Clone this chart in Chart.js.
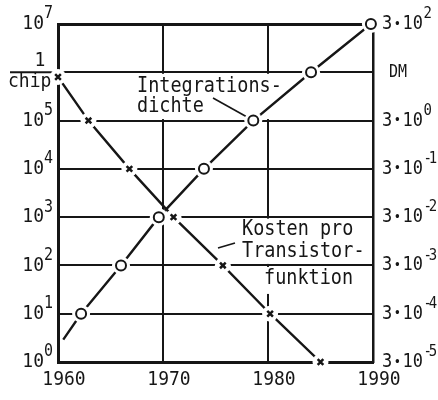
<!DOCTYPE html>
<html>
<head>
<meta charset="utf-8">
<script src="https://cdn.jsdelivr.net/npm/chart.js@4"></script>
<style>
  html, body { margin: 0; padding: 0; background: #fff; }
</style>
</head>
<body>
<canvas id="chart" width="438" height="400"></canvas>
<script>
// x axis: years
const yearTicks = [1960, 1970, 1980, 1990];

// Integrationsdichte (components per chip), circles
const densityYears = [1960.5, 1962.2, 1966.0, 1969.6, 1973.9, 1978.6, 1984.1, 1989.8];
const densityValues = [2.9, 1e1, 1e2, 1e3, 1e4, 1e5, 1e6, 1e7];

// Kosten pro Transistorfunktion (DM), crosses
const costYears = [1960, 1962.9, 1966.8, 1971.0, 1975.7, 1980.2, 1985.0];
const costValues = [24, 3, 0.3, 0.03, 0.003, 0.0003, 0.00003];

// axis ticks
const leftTicks = [1, 1e1, 1e2, 1e3, 1e4, 1e5, 1e6, 1e7];
const leftExps = ["0", "1", "2", "3", "4", "5", null, "7"];
const rightTicks = [3e-5, 3e-4, 3e-3, 3e-2, 3e-1, 3, 30, 300];
const rightExps = ["-5", "-4", "-3", "-2", "-1", "0", null, "2"];

const INK = "#161616";
const MONO = "'DejaVu Sans Mono', monospace";
const STRETCH = 1.12;

const densityPts = densityYears.map((x, i) => ({ x: x, y: densityValues[i] }));
const costPts = costYears.map((x, i) => ({ x: x, y: costValues[i] }));

// text drawn a little taller than the font, like the narrow typewriter face
function put(ctx, s, x, y, size, align, baseline) {
    ctx.save();
    ctx.font = size + "px " + MONO;
    ctx.textAlign = align || "left";
    ctx.textBaseline = baseline || "middle";
    ctx.translate(x, y);
    ctx.scale(1, STRETCH);
    ctx.fillText(s, 0, 0);
    ctx.restore();
}

function width(ctx, s, size, spacing) {
    ctx.save();
    ctx.font = size + "px " + MONO;
    ctx.letterSpacing = spacing || "0px";
    const w = ctx.measureText(s).width;
    ctx.restore();
    return w;
}

function putSup(ctx, s, x, y, size) {
    ctx.save();
    ctx.letterSpacing = s.length > 1 ? "-3px" : "0px";
    put(ctx, s, x, y, size);
    ctx.restore();
}

const labelsPlugin = {
    id: "labels",
    beforeDatasetsDraw(chart) {
        const ctx = chart.ctx;
        const xs = chart.scales.x, ys = chart.scales.y;
        const area = chart.chartArea;
        ctx.save();
        ctx.strokeStyle = INK;
        ctx.fillStyle = INK;

        // fraction bar of "1/chip"
        const y6 = ys.getPixelForValue(1e6);
        ctx.lineWidth = 2;
        ctx.beginPath();
        ctx.moveTo(10, y6);
        ctx.lineTo(area.left, y6);
        ctx.stroke();

        // Integrationsdichte label
        const y5 = ys.getPixelForValue(1e5);
        ctx.fillStyle = "#fff";
        ctx.fillRect(135, y6 + 1.5, 166, y5 - y6 - 3);
        ctx.fillStyle = INK;
        put(ctx, "Integrations-", 137, 92, 18.5, "left", "alphabetic");
        put(ctx, "dichte", 137, 112, 18.5, "left", "alphabetic");
        ctx.lineWidth = 1.6;
        ctx.beginPath();
        ctx.moveTo(213, 98);
        ctx.lineTo(xs.getPixelForValue(densityYears[5]), ys.getPixelForValue(densityValues[5]));
        ctx.stroke();

        // Kosten pro Transistorfunktion label
        const y3 = ys.getPixelForValue(1e3), y2 = ys.getPixelForValue(1e2);
        ctx.fillStyle = "#fff";
        ctx.fillRect(238, y3 + 1.5, area.right - 239.5, y2 - y3 - 3);
        ctx.fillRect(260, y2 + 1.5, 102, 27);
        ctx.fillStyle = INK;
        put(ctx, "Kosten pro", 242, 235, 18.5, "left", "alphabetic");
        put(ctx, "Transistor-", 242, 257, 18.5, "left", "alphabetic");
        put(ctx, "funktion", 264, 284, 18.5, "left", "alphabetic");
        ctx.beginPath();
        ctx.moveTo(235, 243);
        ctx.lineTo(218, 248);
        ctx.stroke();
        ctx.restore();
    },
    afterDraw(chart) {
        const ctx = chart.ctx;
        const xs = chart.scales.x, ys = chart.scales.y, yr = chart.scales.y2;
        const area = chart.chartArea;
        ctx.save();
        ctx.fillStyle = INK;

        // x tick labels
        yearTicks.forEach(function (t) {
            put(ctx, String(t), xs.getPixelForValue(t) + 6, area.bottom + 18, 18, "center");
        });

        // left tick labels: 10^n, and 1/chip in place of 10^6
        leftTicks.forEach(function (v, i) {
            const y = ys.getPixelForValue(v);
            if (leftExps[i] === null) {
                put(ctx, "1", 40, y - 6, 18, "center", "alphabetic");
                put(ctx, "chip", 8, y + 15, 18, "left", "alphabetic");
                return;
            }
            const ew = width(ctx, leftExps[i], 15);
            const xr = area.left - 5 - ew;
            put(ctx, "10", xr, y, 18, "right");
            putSup(ctx, leftExps[i], xr, y - 10, 15);
        });

        // right tick labels: 3·10^n, and DM in place of 3·10^1
        const cw = width(ctx, "0", 17);
        rightTicks.forEach(function (v, i) {
            const y = yr.getPixelForValue(v);
            const x0 = area.right + 9;
            if (rightExps[i] === null) {
                put(ctx, "DM", area.right + 16, y, 15);
                return;
            }
            put(ctx, "3", x0, y, 17);
            put(ctx, "•", x0 + cw * 1.5, y, 12, "center");
            put(ctx, "10", x0 + cw * 2, y, 17);
            putSup(ctx, rightExps[i], x0 + cw * 4 + 0.5, y - 10, 14);
        });
        ctx.restore();
    }
};

const lineStyle = { borderColor: INK, borderWidth: 2.4, pointRadius: 0, fill: false, tension: 0 };

new Chart(document.getElementById("chart"), {
    type: "line",
    data: {
        datasets: [
            Object.assign({ label: "Integrationsdichte", data: densityPts, yAxisID: "y", order: 5 }, lineStyle),
            Object.assign({ label: "Kosten", data: costPts, yAxisID: "y2", order: 4 }, lineStyle),
            {
                label: "halo1", data: densityPts, yAxisID: "y", order: 3, showLine: false, clip: false,
                pointStyle: "circle", pointRadius: ctx => ctx.dataIndex === 0 ? 0 : 9,
                pointBackgroundColor: "#fff", pointBorderWidth: 0, pointBorderColor: "#fff"
            },
            {
                label: "halo2", data: costPts, yAxisID: "y2", order: 3, showLine: false, clip: false,
                pointStyle: "circle", pointRadius: 8,
                pointBackgroundColor: "#fff", pointBorderWidth: 0, pointBorderColor: "#fff"
            },
            {
                label: "circles", data: densityPts, yAxisID: "y", order: 1, showLine: false, clip: false,
                pointStyle: "circle", pointRadius: ctx => ctx.dataIndex === 0 ? 0 : 5,
                pointBackgroundColor: "#fff", pointBorderColor: INK, pointBorderWidth: 2
            },
            {
                label: "crosses", data: costPts, yAxisID: "y2", order: 1, showLine: false, clip: false,
                pointStyle: "crossRot", pointRadius: 4,
                pointBorderColor: INK, pointBorderWidth: 2.5
            }
        ]
    },
    options: {
        responsive: false,
        animation: false,
        events: [],
        layout: { padding: { left: 58, right: 65, top: 24, bottom: 38 } },
        plugins: { legend: { display: false }, tooltip: { enabled: false } },
        scales: {
            x: {
                type: "linear", min: 1960, max: 1990,
                afterBuildTicks: s => { s.ticks = yearTicks.map(v => ({ value: v })); },
                ticks: { display: false },
                grid: { color: INK, lineWidth: 2, drawTicks: false },
                border: { display: true, color: INK, width: 3 }
            },
            y: {
                type: "logarithmic", min: 1, max: 1e7,
                afterBuildTicks: s => { s.ticks = leftTicks.map(v => ({ value: v })); },
                ticks: { display: false },
                grid: { color: INK, lineWidth: c => c.tick && c.tick.value === 1e7 ? 3 : 2, drawTicks: false },
                border: { display: true, color: INK, width: 3 }
            },
            y2: {
                type: "logarithmic", position: "right", min: 3e-5, max: 300,
                afterBuildTicks: s => { s.ticks = rightTicks.map(v => ({ value: v })); },
                ticks: { display: false },
                grid: { drawOnChartArea: false, drawTicks: false },
                border: { display: true, color: INK, width: 2.5 }
            }
        }
    },
    plugins: [labelsPlugin]
});
</script>
</body>
</html>
